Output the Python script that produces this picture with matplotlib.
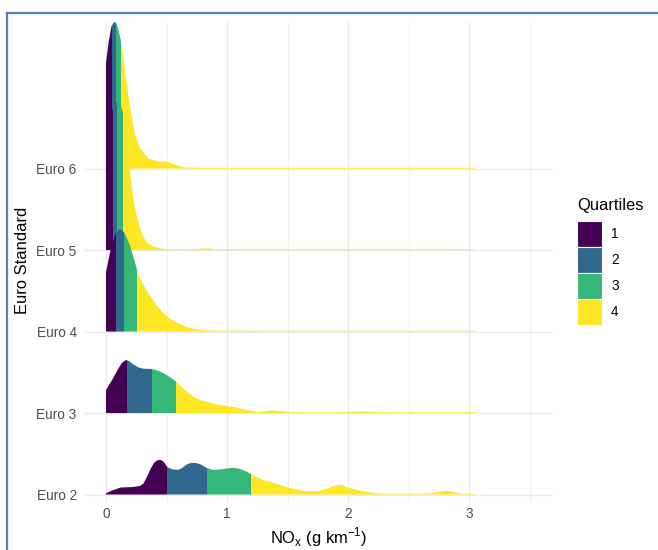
import numpy as np
import matplotlib
matplotlib.use("Agg")
import matplotlib.pyplot as plt
from matplotlib.patches import Polygon, Rectangle
from matplotlib.lines import Line2D

plt.rcParams['font.family'] = ['Liberation Sans', 'DejaVu Sans']
plt.rcParams['mathtext.fontset'] = 'custom'
plt.rcParams['mathtext.rm'] = 'Liberation Sans'

# ---------------- data ----------------
standards = ["Euro 2", "Euro 3", "Euro 4", "Euro 5", "Euro 6"]
quartile_labels = ["1", "2", "3", "4"]
quartile_colors = ["#440154", "#31688E", "#35B779", "#FDE725"]

# density curves: NOx values and relative density heights
e2_x = [0, 0.05, 0.12, 0.22, 0.28, 0.31, 0.34, 0.37, 0.40, 0.42, 0.446, 0.47, 0.49, 0.507,
        0.55, 0.60, 0.63, 0.66, 0.69, 0.72, 0.75, 0.78, 0.837, 0.89, 0.93, 0.97, 1.01, 1.05,
        1.09, 1.12, 1.16, 1.196, 1.25, 1.30, 1.41, 1.50, 1.60, 1.68, 1.76, 1.82, 1.86, 1.90,
        1.93, 1.96, 2.0, 2.05, 2.13, 2.22, 2.30, 2.45, 2.60, 2.70, 2.75, 2.79, 2.82, 2.85,
        2.88, 2.92, 2.98, 3.05]
e2_h = [1.3, 4, 7, 7.5, 8.5, 11, 18, 26, 32, 34, 34.7, 33.5, 30.5, 27.3,
        25, 24.7, 26.5, 29.5, 31.2, 31.7, 31.3, 30.2, 26.3, 24.5, 25, 25.5, 26.3, 26.7,
        26, 25, 23, 20.5, 17, 14.5, 10.7, 7, 4.2, 3.2, 3.6, 5.5, 7.5, 9.2,
        9.7, 9, 7, 5.5, 3.2, 1.5, 0.8, 0.8, 0.8, 1.5, 2.6, 3.4, 3.7, 3.2,
        2.4, 1.2, 0.8, 0.8]

e3_x = [0, 0.05, 0.10, 0.13, 0.165, 0.19, 0.22, 0.27, 0.31, 0.38, 0.44, 0.50, 0.54, 0.58,
        0.62, 0.67, 0.72, 0.78, 0.90, 1.00, 1.08, 1.16, 1.25, 1.32, 1.38, 1.45, 1.51, 1.65,
        1.85, 2.0, 2.07, 2.13, 2.19, 2.25, 2.4, 3.05]
e3_h = [23, 33, 44, 50, 53, 52, 49, 45.5, 44.3, 44, 42, 38, 35, 31.3,
        26.5, 21.3, 16.5, 13, 9, 7, 5.5, 3, 1, 1.8, 2.7, 1.8, 1, 0.8,
        0.8, 1, 1.5, 1.7, 1.4, 0.9, 0.8, 0.8]

e4_x = [0, 0.033, 0.074, 0.10, 0.116, 0.135, 0.157, 0.198, 0.24, 0.267, 0.30, 0.336, 0.38,
        0.42, 0.47, 0.53, 0.60, 0.67, 0.75, 0.83, 0.95, 1.1, 1.3, 2.0, 3.05]
e4_h = [59.3, 79, 96, 101.5, 102.7, 101, 97.7, 86, 69, 57, 49, 41, 33,
        26, 19, 12.7, 8, 4.3, 2.2, 1.2, 1, 0.9, 0.8, 0.8, 0.8]

e5_x = [0, 0.03, 0.06, 0.075, 0.09, 0.105, 0.12, 0.14, 0.17, 0.20, 0.23, 0.26, 0.30, 0.34,
        0.40, 0.46, 0.52, 0.62, 0.72, 0.78, 0.83, 0.89, 0.95, 1.1, 3.05]
e5_h = [100, 128, 143, 147, 148, 147.5, 145, 138, 110, 76, 48, 31, 15, 7,
        3.3, 1.6, 1, 0.8, 1, 1.4, 1.8, 1.2, 0.8, 0.8, 0.8]

e6_x = [0, 0.02, 0.045, 0.06, 0.074, 0.088, 0.10, 0.13, 0.157, 0.184, 0.21, 0.24, 0.28,
        0.35, 0.43, 0.50, 0.57, 0.65, 0.75, 3.05]
e6_h = [105.7, 125, 142, 145.5, 146.7, 144.5, 140, 124, 97, 74, 54, 34, 20.7,
        10, 7.3, 7.3, 4, 1, 0.8, 0.8]

# quartile boundaries (25%, 50%, 75%) per standard
e2_q = [0.507, 0.837, 1.196]
e3_q = [0.176, 0.377, 0.575]
e4_q = [0.085, 0.149, 0.259]
e5_q = [0.056, 0.090, 0.140]
e6_q = [0.052, 0.080, 0.125]

x_ticks = [0, 1, 2, 3]

curves = [(e2_x, e2_h, e2_q), (e3_x, e3_h, e3_q), (e4_x, e4_h, e4_q),
          (e5_x, e5_h, e5_q), (e6_x, e6_h, e6_q)]

HEIGHT_UNIT = 81.4  # density units per ridge spacing

# ---------------- figure ----------------
W, H = 658, 550
fig = plt.figure(figsize=(W / 100, H / 100), dpi=100)
fig.patch.set_facecolor("white")

L, R, T, B = 85, 553, 22, 503
ax = fig.add_axes([L / W, 1 - B / H, (R - L) / W, (B - T) / H])
ax.set_facecolor("white")
for s in ax.spines.values():
    s.set_visible(False)

ax.set_xlim(-0.1736, 3.694)
ax.set_ylim(-0.104, 5.80)

# grid
grid_col = "#EBEBEB"
for xv in x_ticks:
    ax.axvline(xv, color=grid_col, lw=1.0, zorder=0)
for xv in [0.5, 1.5, 2.5, 3.5]:
    ax.axvline(xv, color=grid_col, lw=0.5, zorder=0)
for i in range(len(standards)):
    ax.axhline(i, color=grid_col, lw=1.0, zorder=0)

# ridges: lower ridges drawn on top of higher ones
for i, (xs, hs, qs) in enumerate(curves):
    xs = np.asarray(xs, float)
    hs = np.asarray(hs, float) / HEIGHT_UNIT
    verts = [(xs[0], i)] + list(zip(xs, i + hs)) + [(xs[-1], i)]
    poly = Polygon(verts, closed=True, facecolor="none", edgecolor="none",
                   transform=ax.transData)
    ax.add_patch(poly)
    bounds = [xs[0]] + list(qs) + [xs[-1]]
    z = 10 - i
    for k in range(4):
        span = ax.axvspan(bounds[k], bounds[k + 1], facecolor=quartile_colors[k],
                          lw=0, zorder=z)
        span.set_clip_path(poly)

ax.set_yticks(range(len(standards)))
ax.set_yticklabels(standards)
ax.set_xticks(x_ticks)
ax.set_xticklabels([str(v) for v in x_ticks])
ax.tick_params(axis="both", length=0, labelsize=9.8, labelcolor="#4D4D4D")
ax.tick_params(axis="y", pad=6)
ax.tick_params(axis="x", pad=3)

# axis titles
fig.text(319 / W, 1 - 537 / H, r"NO$_\mathregular{x}$ (g km$^{\mathregular{-1}}$)",
         ha="center", va="center", fontsize=11.9, color="black")
fig.text(23 / W, 1 - 260 / H, "Euro Standard", rotation=90,
         ha="center", va="center", fontsize=11.9, color="black")

# legend
fig.text(577 / W, 1 - 205 / H, "Quartiles", ha="left", va="center",
         fontsize=11.9, color="black")
key_top = 220.5
for k, (lab, col) in enumerate(zip(quartile_labels, quartile_colors)):
    y0 = key_top + 26 * k
    fig.add_artist(Rectangle((577 / W, 1 - (y0 + 26) / H), 25 / W, 26 / H,
                             transform=fig.transFigure, facecolor=col,
                             edgecolor="white", lw=0.8))
    fig.text(611 / W, 1 - (y0 + 13) / H, lab, ha="left", va="center",
             fontsize=9.8, color="black")

# screenshot frame
frame_col = "#4F81BD"
fig.add_artist(Line2D([7 / W, 1], [1 - 13 / H, 1 - 13 / H], transform=fig.transFigure,
                      color=frame_col, lw=1.6))
fig.add_artist(Line2D([7 / W, 7 / W], [0, 1 - 13 / H], transform=fig.transFigure,
                      color=frame_col, lw=1.6))

fig.savefig("out.png", dpi=100)
